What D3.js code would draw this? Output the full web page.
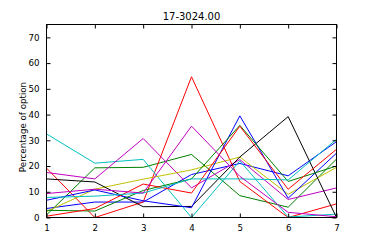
<!DOCTYPE html>
<html>
<head>
<meta charset="utf-8">
<script src="https://cdn.jsdelivr.net/npm/d3@7"></script>
<style>
  body { margin: 0; background: #fff; }
  text { font-family: "DejaVu Sans", sans-serif; fill: #000; }
</style>
</head>
<body>
<div class="chart"></div>
<script>
var options = [1, 2, 3, 4, 5, 6, 7];
var yTicks = [0, 10, 20, 30, 40, 50, 60, 70];

// one array per plotted line, in drawing order
var blue1 = [3.5, 6, 6, 16.7, 21, 16.2, 29.5];
var green1 = [1, 19.3, 19.5, 24.5, 8.5, 4, 22.7];
var red1 = [19.2, 0, 6, 54.7, 14, 0, 5.3];
var cyan1 = [32.5, 21.1, 22.6, 0, 22, 0.2, 1.3];
var magenta1 = [17.5, 15, 30.7, 11.5, 22.5, 7, 11.5];
var yellow1 = [2.3, 11, 14.9, 18.5, 23.5, 9, 19.5];
var black1 = [15, 13.8, 4.2, 4.3, 23.5, 39.2, 0];
var blue2 = [6.7, 10.7, 6.5, 3.8, 39.5, 7.5, 25];
var green2 = [2.8, 2.5, 10.5, 15, 35.8, 14, 20];
var red2 = [0.5, 3.5, 13, 9.5, 35.5, 11, 26.5];
var cyan2 = [7.8, 8.3, 9.5, 15, 15, 14.6, 30.4];
var magenta2 = [9.3, 11, 9.5, 35.5, 16, 2, 0.3];

var series = [blue1, green1, red1, cyan1, magenta1, yellow1, black1,
              blue2, green2, red2, cyan2, magenta2];
var colors = ["#0000ff", "#008000", "#ff0000", "#00bfbf", "#bf00bf", "#bfbf00", "#000000"];

function init() {
    var w = 374, h = 249;
    var x0 = 46.5, x1 = 336.5, y0 = 24.5, y1 = 217.5;

    var xScale = d3.scaleLinear().domain([1, 7]).range([x0, x1]);
    var yScale = d3.scaleLinear().domain([0, 75]).range([y1, y0]);

    var svg = d3.select(".chart").append("svg")
        .attr("width", w)
        .attr("height", h);

    var line = d3.line()
        .x(function (d, i) { return xScale(options[i]); })
        .y(function (d) { return yScale(d); });

    svg.append("defs").append("clipPath").attr("id", "clip")
        .append("rect")
        .attr("x", x0).attr("y", y0)
        .attr("width", x1 - x0).attr("height", y1 - y0);

    svg.append("g")
        .attr("clip-path", "url(#clip)")
        .selectAll("path")
        .data(series)
        .enter().append("path")
        .attr("d", line)
        .attr("fill", "none")
        .attr("stroke", function (d, i) { return colors[i % colors.length]; })
        .attr("stroke-width", 1);

    // inward ticks on all four sides
    var xAxis = d3.axisBottom(xScale).tickValues(options).tickFormat(d3.format("d"))
        .tickSizeInner(-4).tickSizeOuter(0).tickPadding(7);
    var yAxis = d3.axisLeft(yScale).tickValues(yTicks)
        .tickSizeInner(-4).tickSizeOuter(0).tickPadding(7);
    var xTop = d3.axisTop(xScale).tickValues(options).tickFormat("")
        .tickSizeInner(-4).tickSizeOuter(0);
    var yRight = d3.axisRight(yScale).tickValues(yTicks).tickFormat("")
        .tickSizeInner(-4).tickSizeOuter(0);

    function style(g) {
        g.select(".domain").remove();
        g.selectAll("line").attr("stroke", "#000");
        g.selectAll("text").style("font-size", "8.7px").attr("fill", "#000");
    }

    svg.append("g").attr("transform", "translate(0," + y1 + ")").call(xAxis).call(style);
    svg.append("g").attr("transform", "translate(" + x0 + ",0)").call(yAxis).call(style);
    svg.append("g").attr("transform", "translate(0," + y0 + ")").call(xTop).call(style);
    svg.append("g").attr("transform", "translate(" + x1 + ",0)").call(yRight).call(style);

    svg.append("rect")
        .attr("x", x0).attr("y", y0)
        .attr("width", x1 - x0).attr("height", y1 - y0)
        .attr("fill", "none")
        .attr("stroke", "#000")
        .attr("stroke-width", 1);

    svg.append("text")
        .attr("x", (x0 + x1) / 2)
        .attr("y", 20)
        .attr("text-anchor", "middle")
        .style("font-size", "10px")
        .text("17-3024.00");

    svg.append("text")
        .attr("transform", "translate(26," + ((y0 + y1) / 2 + 6) + ") rotate(-90)")
        .attr("text-anchor", "middle")
        .style("font-size", "8.7px")
        .text("Percentage of option");
}

init();
</script>
</body>
</html>
